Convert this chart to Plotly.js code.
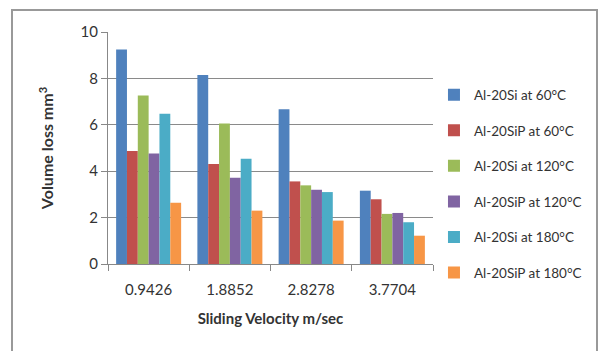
<!DOCTYPE html>
<html>
<head>
<meta charset="utf-8">
<script src="https://cdn.plot.ly/plotly-3.0.1.min.js"></script>
<style>
  html, body { margin: 0; padding: 0; background: #fff; }
  #wrap { position: relative; width: 603px; height: 351px; overflow: hidden; }
  #chart { width: 603px; height: 351px; }
  #frame {
    position: absolute; left: 11px; top: 9px; width: 587px; height: 352px;
    border: 2px solid #999999; pointer-events: none; box-sizing: border-box; z-index: 5;
  }
</style>
</head>
<body>
<div id="wrap">
  <div id="chart"></div>
  <div id="frame"></div>
</div>
<script>
// Sliding velocities (m/sec)
const velocities = ['0.9426', '1.8852', '2.8278', '3.7704'];

// Volume loss (mm³) for each alloy / temperature
const si60 = [9.25, 8.15, 6.67, 3.16];
const sip60 = [4.87, 4.31, 3.56, 2.79];
const si120 = [7.26, 6.06, 3.39, 2.16];
const sip120 = [4.76, 3.72, 3.20, 2.20];
const si180 = [6.48, 4.54, 3.10, 1.80];
const sip180 = [2.64, 2.30, 1.87, 1.22];

const seriesNames = [
  'Al-20Si at 60°C',
  'Al-20SiP at 60°C',
  'Al-20Si at 120°C',
  'Al-20SiP at 120°C',
  'Al-20Si at 180°C',
  'Al-20SiP at 180°C'
];
const seriesValues = [si60, sip60, si120, sip120, si180, sip180];
const colors = ['#4F81BD', '#C0504D', '#9BBB59', '#8064A2', '#4BACC6', '#F79646'];

const traces = seriesValues.map((vals, i) => ({
  type: 'bar',
  x: velocities,
  y: vals,
  name: seriesNames[i],
  legendgroup: 'g' + i,
  marker: { color: colors[i], line: { width: 0 } },
  hoverinfo: 'x+y+name'
}));

const font = 'Lato, "Open Sans", sans-serif';

const layout = {
  width: 603,
  height: 351,
  margin: { l: 108, r: 170, t: 32, b: 87, autoexpand: false },
  paper_bgcolor: 'rgba(0,0,0,0)',
  plot_bgcolor: '#fff',
  barmode: 'group',
  bargap: 0.2,
  bargroupgap: 0,
  font: { family: font, color: '#333', size: 14 },
  xaxis: {
    type: 'category',
    tickson: 'boundaries',
    ticks: 'outside',
    ticklen: 6,
    tickcolor: '#888',
    showline: true,
    linecolor: '#888',
    linewidth: 1,
    showgrid: false,
    ticklabelstandoff: 12,
    tickfont: { size: 15, color: '#333' },
    title: { text: '<b>Sliding Velocity m/sec</b>', font: { size: 15, color: '#333' }, standoff: 16 }
  },
  yaxis: {
    range: [0, 10],
    dtick: 2,
    ticks: 'outside',
    ticklen: 6,
    tickcolor: '#888',
    showline: true,
    linecolor: '#888',
    linewidth: 1,
    gridcolor: '#8a8a8a',
    gridwidth: 1,
    zeroline: false,
    tickfont: { size: 15, color: '#333' },
    title: { text: '<b>Volume loss mm<sup>3</sup></b>', font: { size: 16, color: '#333' }, standoff: 22 }
  },
  legend: {
    x: 1.003,
    xanchor: 'left',
    y: 0.345,
    yanchor: 'middle',
    tracegroupgap: 15,
    itemwidth: 30,
    font: { size: 13.5, color: '#333' },
    bgcolor: 'rgba(0,0,0,0)'
  },
  showlegend: true
};

Plotly.newPlot('chart', traces, layout, { displayModeBar: false, staticPlot: true });
</script>
</body>
</html>
